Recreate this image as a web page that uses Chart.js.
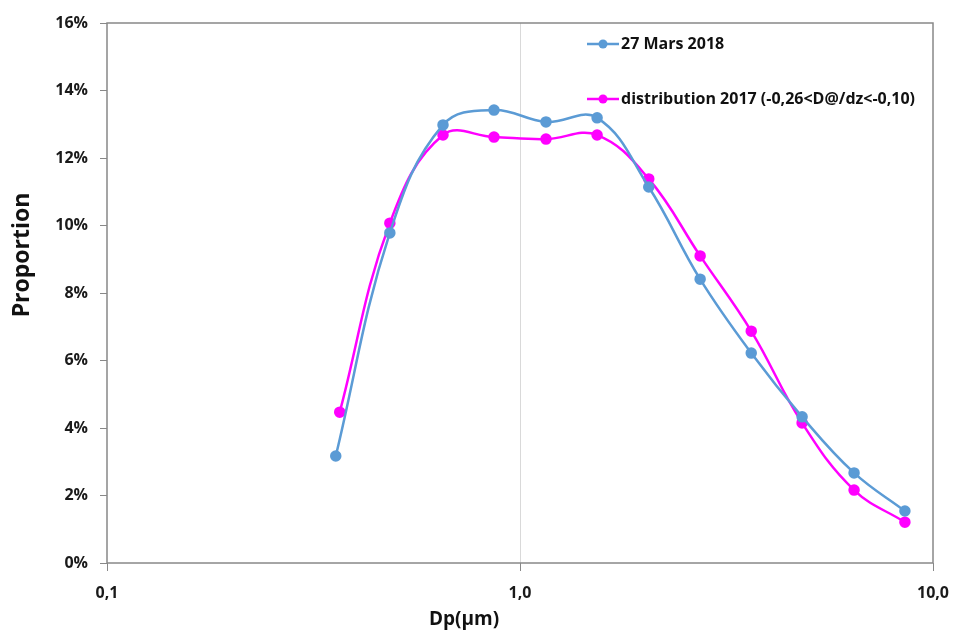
<!DOCTYPE html>
<html>
<head>
<meta charset="utf-8">
<script src="https://cdn.jsdelivr.net/npm/chart.js@4/dist/chart.umd.min.js"></script>
<style>
  html, body { margin: 0; padding: 0; background: #fff; }
  #wrap { width: 954px; height: 630px; position: relative; }
</style>
</head>
<body>
<div id="wrap"><canvas id="sizeChart"></canvas></div>
<script>
// particle diameter (µm) and proportion (%)
const dpMars = [0.358, 0.484, 0.651, 0.865, 1.156, 1.537, 2.05, 2.73, 3.63, 4.82, 6.44, 8.55];
const propMars = [3.17, 9.78, 12.98, 13.42, 13.07, 13.19, 11.14, 8.41, 6.22, 4.33, 2.67, 1.54];
const dpDist = [0.366, 0.484, 0.651, 0.865, 1.156, 1.537, 2.05, 2.73, 3.63, 4.82, 6.44, 8.55];
const propDist = [4.47, 10.07, 12.68, 12.62, 12.56, 12.68, 11.38, 9.10, 6.87, 4.15, 2.16, 1.21];
const xTicks = [0.1, 1, 10];
const seriesNames = ['27 Mars 2018', 'distribution 2017 (-0,26<D@/dz<-0,10)'];

const blue = '#5B9BD5';
const magenta = '#FF00FF';
const axisGrey = '#888888';
const fontFam = "'Open Sans', 'Liberation Sans', sans-serif";

function toPoints(xs, ys) {
  return xs.map((x, i) => ({ x: x, y: ys[i] }));
}

// frame, legend and axis titles drawn by hand
const decorations = {
  id: 'decorations',
  afterDraw(chart) {
    const ctx = chart.ctx;
    const a = chart.chartArea;
    ctx.save();
    ctx.strokeStyle = axisGrey;
    ctx.lineWidth = 1.5;
    ctx.strokeRect(a.left, a.top, a.right - a.left, a.bottom - a.top);

    // legend
    const items = [{ c: blue, y: 44 }, { c: magenta, y: 99 }];
    items.forEach((it, i) => {
      ctx.strokeStyle = it.c;
      ctx.lineWidth = 2.5;
      ctx.beginPath();
      ctx.moveTo(587, it.y);
      ctx.lineTo(619, it.y);
      ctx.stroke();
      ctx.fillStyle = it.c;
      ctx.beginPath();
      ctx.arc(603, it.y, 4.5, 0, Math.PI * 2);
      ctx.fill();
      ctx.fillStyle = '#111';
      ctx.font = 'bold 16px ' + fontFam;
      ctx.textAlign = 'left';
      ctx.textBaseline = 'middle';
      ctx.fillText(seriesNames[i], 621, it.y);
    });

    // axis titles
    ctx.fillStyle = '#111';
    ctx.font = 'bold 19px ' + fontFam;
    ctx.textAlign = 'center';
    ctx.textBaseline = 'middle';
    ctx.fillText('Dp(µm)', 464, 620);

    ctx.translate(22, 255);
    ctx.rotate(-Math.PI / 2);
    ctx.font = 'bold 23px ' + fontFam;
    ctx.fillText('Proportion', 0, 0);
    ctx.restore();
  }
};

const ctx = document.getElementById('sizeChart');
new Chart(ctx, {
  type: 'scatter',
  data: {
    datasets: [
      {
        label: seriesNames[0],
        data: toPoints(dpMars, propMars),
        showLine: true,
        borderColor: blue,
        backgroundColor: blue,
        borderWidth: 2.5,
        pointRadius: 4.5,
        pointHoverRadius: 4.5,
        tension: 0.4
      },
      {
        label: seriesNames[1],
        data: toPoints(dpDist, propDist),
        showLine: true,
        borderColor: magenta,
        backgroundColor: magenta,
        borderWidth: 2.5,
        pointRadius: 4.5,
        pointHoverRadius: 4.5,
        tension: 0.4
      }
    ]
  },
  options: {
    responsive: true,
    maintainAspectRatio: false,
    animation: false,
    layout: { padding: { left: 0, right: 21, top: 23, bottom: 0 } },
    plugins: {
      legend: { display: false },
      tooltip: { enabled: false }
    },
    scales: {
      x: {
        type: 'logarithmic',
        min: 0.1,
        max: 10,
        afterBuildTicks: (scale) => { scale.ticks = xTicks.map(v => ({ value: v })); },
        afterFit: (scale) => {
          scale.height = 67;
          scale.paddingLeft = 0;
          scale.paddingRight = 0;
        },
        border: { display: false },
        grid: {
          color: (c) => (c.tick && c.tick.value === 1) ? '#d9d9d9' : 'rgba(0,0,0,0)',
          tickColor: axisGrey,
          tickLength: 8,
          lineWidth: 1
        },
        ticks: {
          color: '#1a1a1a',
          padding: 13,
          maxRotation: 0,
          font: { family: fontFam, size: 16, weight: 'bold' },
          callback: (v) => Number(v).toFixed(1).replace('.', ',')
        }
      },
      y: {
        min: 0,
        max: 16,
        afterFit: (scale) => { scale.width = 107; },
        border: { display: false },
        grid: {
          drawOnChartArea: false,
          tickColor: axisGrey,
          tickLength: 7
        },
        ticks: {
          stepSize: 2,
          color: '#1a1a1a',
          padding: 12,
          font: { family: fontFam, size: 16, weight: 'bold' },
          callback: (v) => v + '%'
        }
      }
    }
  },
  plugins: [decorations]
});
</script>
</body>
</html>
